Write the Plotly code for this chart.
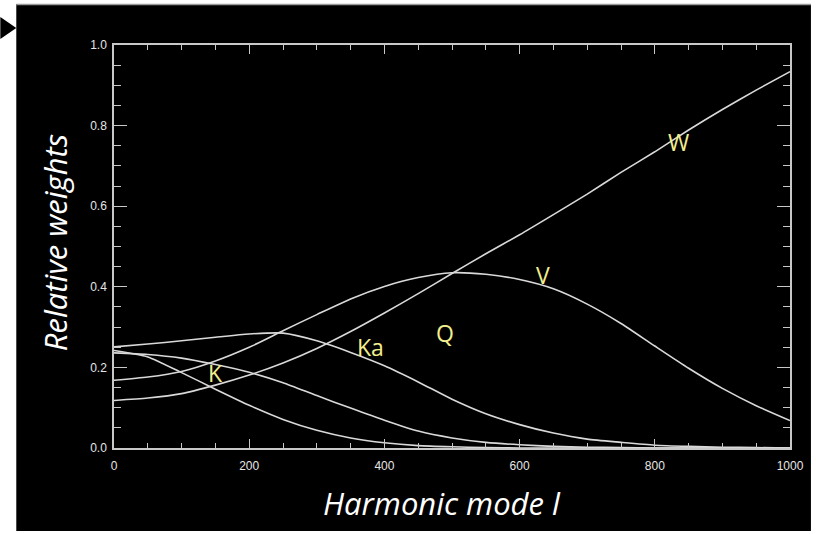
import plotly.graph_objects as go

# ---- data ----
l_grid = [0, 50, 100, 150, 200, 250, 300, 350, 400, 450, 500, 550, 600, 650, 700, 750, 800, 850, 900, 950, 1000]

w_K = [0.242, 0.226, 0.187, 0.146, 0.106, 0.071, 0.044, 0.025, 0.013, 0.006, 0.003, 0.001, 0.0, 0.0, 0.0, 0.0, 0.0, 0.0, 0.0, 0.0, 0.0]
w_Ka = [0.236, 0.232, 0.223, 0.207, 0.188, 0.162, 0.130, 0.099, 0.069, 0.042, 0.025, 0.014, 0.008, 0.004, 0.002, 0.001, 0.0, 0.0, 0.0, 0.0, 0.0]
w_Q = [0.251, 0.258, 0.266, 0.275, 0.283, 0.285, 0.266, 0.237, 0.204, 0.164, 0.121, 0.085, 0.058, 0.037, 0.022, 0.014, 0.007, 0.004, 0.002, 0.001, 0.0]
w_V = [0.168, 0.176, 0.190, 0.216, 0.250, 0.291, 0.331, 0.370, 0.401, 0.423, 0.435, 0.431, 0.418, 0.395, 0.357, 0.309, 0.253, 0.198, 0.148, 0.105, 0.068]
w_W = [0.118, 0.124, 0.135, 0.156, 0.181, 0.211, 0.247, 0.289, 0.335, 0.383, 0.433, 0.482, 0.529, 0.579, 0.630, 0.684, 0.735, 0.789, 0.840, 0.888, 0.934]

series = [("K", w_K), ("Ka", w_Ka), ("Q", w_Q), ("V", w_V), ("W", w_W)]

label_names = ["K", "Ka", "Q", "V", "W"]
label_l = [150, 380, 490, 635, 835]
label_w = [0.185, 0.25, 0.285, 0.43, 0.76]

x_ticks = [0, 200, 400, 600, 800, 1000]
y_ticks = [0.0, 0.2, 0.4, 0.6, 0.8, 1.0]

# ---- layout geometry ----
W, H = 816, 534
ML, MR, MT, MB = 114, 24, 45, 86
PW, PH = W - ML - MR, H - MT - MB


def px(x):
    return (x - ML) / PW


def py(y):
    return (H - MB - y) / PH


LINE = "#d9d9d9"
AX = "#c8c8c8"
YEL = "#f2ee8e"

fig = go.Figure()
for name, ys in series:
    fig.add_trace(go.Scatter(x=l_grid, y=ys, mode="lines", name=name,
                             line=dict(color=LINE, width=1.6, shape="spline", smoothing=0.6),
                             hoverinfo="skip"))

for n, lx, ly in zip(label_names, label_l, label_w):
    fig.add_annotation(x=lx, y=ly, xref="x", yref="y", text=n, showarrow=False,
                       font=dict(family="Open Sans", size=23, color=YEL))

# axis titles
fig.add_annotation(x=px(55), y=py(243), xref="paper", yref="paper", text="<i>Relative weights</i>",
                   textangle=-90, showarrow=False, xanchor="center", yanchor="middle",
                   font=dict(family="Open Sans", size=31, color="white"))
fig.add_annotation(x=px(443), y=py(503), xref="paper", yref="paper", text="<i>Harmonic mode l</i>",
                   showarrow=False, xanchor="center", yanchor="middle",
                   font=dict(family="Open Sans", size=31, color="white"))

# black panel and arrow
fig.add_shape(type="rect", xref="paper", yref="paper", x0=px(16), x1=px(813), y0=py(531), y1=py(4),
              fillcolor="black", line=dict(width=0), layer="below")
fig.add_shape(type="line", xref="paper", yref="paper", x0=px(16), x1=px(813), y0=py(4.5), y1=py(4.5),
              line=dict(color="#9a9a9a", width=1.5), layer="below")
fig.add_shape(type="path", xref="paper", yref="paper",
              path=f"M {px(0)} {py(17)} L {px(16)} {py(28)} L {px(0)} {py(39)} Z",
              fillcolor="black", line=dict(width=0), layer="above")

axis_common = dict(showgrid=False, zeroline=False, showline=True, linecolor=AX, linewidth=1.5,
                   ticks="inside", tickcolor=AX, tickwidth=1.3, mirror="allticks",
                   tickfont=dict(family="Liberation Sans", size=12, color="#e6e6e6"))

fig.update_xaxes(range=[0, 1000], tickvals=x_ticks, ticktext=[str(v) for v in x_ticks],
                 ticklen=9, ticklabelstandoff=6,
                 minor=dict(dtick=50, ticks="inside", ticklen=5, tickcolor=AX, tickwidth=1.2),
                 **axis_common)
fig.update_yaxes(range=[0, 1], tickvals=y_ticks, ticktext=[f"{v:.1f}" for v in y_ticks],
                 ticklen=13, ticklabelstandoff=3,
                 minor=dict(dtick=0.05, ticks="inside", ticklen=7, tickcolor=AX, tickwidth=1.2),
                 **axis_common)

fig.update_layout(width=W, height=H, margin=dict(l=ML, r=MR, t=MT, b=MB),
                  paper_bgcolor="white", plot_bgcolor="black", showlegend=False)

fig.write_html("out.html")
